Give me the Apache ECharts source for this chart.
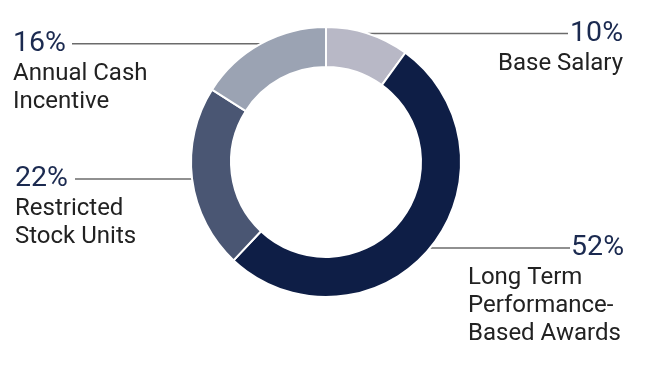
<!DOCTYPE html>
<html>
<head>
<meta charset="utf-8">
<script src="https://cdn.jsdelivr.net/npm/echarts@6/dist/echarts.min.js"></script>
<style>
html,body{margin:0;padding:0;background:#fff;}
#chart{width:652px;height:384px;}
</style>
</head>
<body>
<div id="chart"></div>
<script>
// Data
const categories = ['Base Salary', 'Long Term Performance-Based Awards', 'Restricted Stock Units', 'Annual Cash Incentive'];
const labelLines = [['Base Salary'], ['Long Term', 'Performance-', 'Based Awards'], ['Restricted', 'Stock Units'], ['Annual Cash', 'Incentive']];
const values = [10, 52, 22, 16];
const colors = ['#b8b8c6', '#0e1e46', '#4a5673', '#9ba3b3'];

const chart = echarts.init(document.getElementById('chart'));

// label placement per slice
const place = [
  {x: 623, align: 'right', lineEnd: 568, pa: 'right', na: 'right'},
  {x: 468, align: 'left', lineEnd: 570, pa: 'right', na: 'left', width: 156},
  {x: 15, align: 'left', lineEnd: 75, pa: 'left', na: 'left'},
  {x: 13, align: 'left', lineEnd: 72, pa: 'left', na: 'left'}
];
const PCT_LH = 32;

const data = categories.map((c, i) => {
  const d = {name: c, value: values[i], itemStyle: {color: colors[i]}};
  if (place[i].width) d.label = {width: place[i].width};
  return d;
});

chart.setOption({
  animation: false,
  series: [{
    type: 'pie',
    center: [326, 162],
    radius: [95, 135],
    startAngle: 90,
    clockwise: true,
    avoidLabelOverlap: false,
    itemStyle: {borderColor: '#fff', borderWidth: 2},
    label: {
      show: true,
      position: 'outside',
      fontFamily: 'Roboto',
      formatter: function (p) {
        const pl = place[p.dataIndex];
        const pk = pl.pa === 'right' ? 'pctR' : 'pctL';
        const nk = pl.na === 'right' ? 'nmR' : 'nmL';
        return '{' + pk + '|' + p.value + '%}\n' +
          labelLines[p.dataIndex].map(l => '{' + nk + '|' + l + '}').join('\n');
      },
      rich: {
        pctR: {fontSize: 28.5, color: '#1b2a50', lineHeight: PCT_LH, align: 'right', fontFamily: 'Roboto'},
        pctL: {fontSize: 28.5, color: '#1b2a50', lineHeight: PCT_LH, align: 'left', fontFamily: 'Roboto'},
        nmR: {fontSize: 24, color: '#222', lineHeight: 28, align: 'right', fontFamily: 'Roboto'},
        nmL: {fontSize: 24, color: '#222', lineHeight: 28, align: 'left', fontFamily: 'Roboto'}
      }
    },
    labelLine: {
      show: true,
      length: 0,
      length2: 10,
      smooth: false,
      lineStyle: {color: '#6b6b6b', width: 1.5}
    },
    labelLayout: function (params) {
      const i = params.dataIndex;
      const pl = place[i];
      const p0 = params.labelLinePoints[0];
      return {
        x: pl.x,
        y: p0[1] - PCT_LH / 2,
        align: pl.align,
        verticalAlign: 'top',
        labelLinePoints: [[p0[0], p0[1]], [pl.lineEnd, p0[1]]]
      };
    },
    data: data
  }]
});
</script>
</body>
</html>
